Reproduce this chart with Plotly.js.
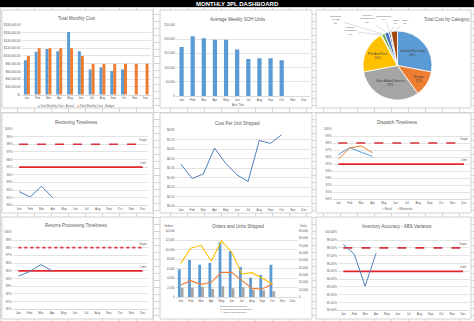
<!DOCTYPE html>
<html><head><meta charset="utf-8">
<script src="https://cdn.plot.ly/plotly-3.0.1.min.js"></script>
<style>
html,body{margin:0;padding:0;}
body{width:474px;height:321px;overflow:hidden;background-color:#fff;
background-image:linear-gradient(to right,#d6d6d6 1px,transparent 1px),linear-gradient(to bottom,#d6d6d6 1px,transparent 1px);
background-size:17px 7px;}
#chart{width:474px;height:321px;}
</style></head>
<body><div id="chart"></div>
<script>
// ---------------- DATA ----------------
const months = ['Jan','Feb','Mar','Apr','May','Jun','Jul','Aug','Sep','Oct','Nov','Dec'];

const costActual = [89000,111000,118000,112000,162000,112000,65000,71000,61000,65000,null,null];
const costBudget = [100000,120000,120000,120000,120000,100000,80000,80000,80000,80000,80000,80000];
const costTickVals = [0,20000,40000,60000,80000,100000,120000,140000,160000,180000];
const costTickText = ['$-','$20,000.00','$40,000.00','$60,000.00','$80,000.00','$100,000.00','$120,000.00','$140,000.00','$160,000.00','$180,000.00'];

const sohUnits = [172500,210000,203000,198000,198000,164000,130000,133000,133000,126000,null,null];

const pieLabels = ['Inbound Receiving','Storage','Value Added Services','Pick And Pack','Returns Processing','Outbound Freight','Inventory Management','Consumables','Admin','Other'];
const pieValues = [28,12,32,20,0.4,1.5,2,0.8,0.3,3];

const receiving = [91.8,91.1,92.5,91.0,null,null,null,null,null,null,null,null];
const costPerUnit = [0.44,0.29,0.34,0.61,0.45,0.33,0.26,0.69,0.66,0.75,null,null];
const dispatchRetail = [96.35,97.35,96.7,96.1,null,null,null,null,null,null,null,null];
const dispatchWholesale = [95.7,97.3,97.6,96.6,null,null,null,null,null,null,null,null];
const returnsTimeliness = [94.3,94.9,95.8,95.0,null,null,null,null,null,null,null,null];
const inventoryAccuracy = [98.45,97.2,93.1,97.3,null,null,null,null,null,null,null,null];

const targetLine = [98,98,98,98,98,98,98,98,98,98,98,98];
const limitLine  = [95,95,95,95,95,95,95,95,95,95,95,95];

const retailOrders = [5900,7850,6850,7200,11600,9700,6350,4100,4650,6850,null,null];
const wholesaleOrders = [1980,1980,2190,1700,2260,1840,2050,1550,1410,1200,null,null];
const retailUnits = [16400,22300,17300,20000,33600,33600,22700,11800,10900,17700,null,null];
const wholesaleUnits = [45900,66400,70500,49000,76400,61400,31400,33200,25500,18200,null,null];

// ---------------- STYLE / LAYOUT HELPERS ----------------
const W=474,H=321;
const BLUE='#5B9BD5',ORANGE='#ED7D31',GRAY='#A5A5A5',YELLOW='#FFC000',LINEBLUE='#4F81BD';
const TGT='#D9303A',LIM='#E0262B',TXT='#595959';
const FONT='Liberation Sans, Arial, sans-serif';
const dX=(a,b)=>[a/W,b/W];
const dY=(t,b)=>[1-b/H,1-t/H];
const px=x=>x/W, py=y=>1-y/H;

function xax(d,anchor){return {domain:d,anchor:anchor,type:'category',categoryorder:'array',categoryarray:months,
  range:[-0.5,11.5],showgrid:false,showline:true,linecolor:'#d9d9d9',linewidth:1,ticks:'',
  tickfont:{size:3,color:TXT},fixedrange:true,automargin:false};}
function yax(d,anchor,extra){return Object.assign({domain:d,anchor:anchor,showgrid:true,gridcolor:'#e3e3e3',gridwidth:1,
  zeroline:false,showline:false,ticks:'',tickfont:{size:3,color:TXT},fixedrange:true,automargin:false},extra||{});}

const pctAxis={range:[90,100],dtick:1,ticksuffix:'%'};

// pie geometry (layout)
const pieCx=397.5, pieCy=65.5, pieR=34.5;
const smallLabelPos=[[350,31],[336,20],[367,19],[384,18],[396,22],[405,22]];
const nBig=4;

const traces=[];
// Chart 1
traces.push({type:'bar',x:months,y:costActual,name:'Total Monthly Cost - Actual',marker:{color:BLUE},xaxis:'x',yaxis:'y',showlegend:false});
traces.push({type:'bar',x:months,y:costBudget,name:'Total Monthly Cost - Budget',marker:{color:ORANGE},xaxis:'x',yaxis:'y',showlegend:false});
// Chart 2
traces.push({type:'bar',x:months,y:sohUnits,width:0.38,marker:{color:BLUE},xaxis:'x2',yaxis:'y2',showlegend:false});
// Chart 3 pie
traces.push({type:'pie',labels:pieLabels,values:pieValues,sort:false,direction:'clockwise',rotation:0,
  marker:{colors:[BLUE,ORANGE,GRAY,YELLOW,'#C9E2B3','#70AD47','#4472C4','#264478','#8FAADC','#9E480E'],line:{color:'#fff',width:0.8}},
  texttemplate:'%{label}<br>%{percent:.0%}',
  textposition:pieLabels.map((l,i)=>i<nBig?'inside':'none'),
  insidetextorientation:'horizontal',textfont:{size:3,color:'#404040'},
  domain:{x:dX(pieCx-pieR,pieCx+pieR),y:dY(pieCy-pieR,pieCy+pieR)},showlegend:false,hoverinfo:'label+percent'});
// Chart 4 receiving
const lineTrace=(y,xa,ya,color,w,dash)=>({type:'scatter',mode:'lines',x:months,y:y,xaxis:xa,yaxis:ya,line:{color:color,width:w,dash:dash||'solid'},showlegend:false,connectgaps:false});
traces.push(lineTrace(targetLine,'x4','y4',TGT,1.6,'dash'));
traces.push(lineTrace(limitLine,'x4','y4',LIM,1.8));
traces.push(lineTrace(receiving,'x4','y4',LINEBLUE,1));
// Chart 5 cost per unit
traces.push(lineTrace(costPerUnit,'x5','y5',LINEBLUE,1));
// Chart 6 dispatch
traces.push(lineTrace(targetLine,'x6','y6',TGT,1.6,'dash'));
traces.push(lineTrace(limitLine,'x6','y6',LIM,1.8));
traces.push(lineTrace(dispatchRetail,'x6','y6',BLUE,1));
traces.push(lineTrace(dispatchWholesale,'x6','y6',ORANGE,1));
// Chart 7 returns
traces.push(lineTrace(targetLine,'x7','y7',TGT,1.8,'dot'));
traces.push(lineTrace(limitLine,'x7','y7',LIM,1.8));
traces.push(lineTrace(returnsTimeliness,'x7','y7',LINEBLUE,1));
// Chart 8 orders
traces.push({type:'bar',x:months,y:retailOrders,marker:{color:BLUE},xaxis:'x8',yaxis:'y8',showlegend:false});
traces.push({type:'bar',x:months,y:wholesaleOrders,marker:{color:GRAY},xaxis:'x8',yaxis:'y8',showlegend:false});
traces.push(lineTrace(retailUnits,'x8','y10',ORANGE,1.1));
traces.push(lineTrace(wholesaleUnits,'x8','y10',YELLOW,1.1));
// Chart 9 inventory
traces.push(lineTrace(targetLine,'x9','y9',TGT,1.6,'dash'));
traces.push(lineTrace(limitLine,'x9','y9',LIM,1.8));
traces.push(lineTrace(inventoryAccuracy,'x9','y9',LINEBLUE,1));

// panels
const panels=[[2,10,153,108],[160,10,312,108],[316,10,471,108],
              [2,113,153,213],[160,113,312,213],[316,113,471,213],
              [2,217,153,319],[160,217,312,319],[316,217,471,319]];
const shapes=panels.map(p=>({type:'rect',xref:'paper',yref:'paper',x0:px(p[0]),x1:px(p[2]),y0:py(p[3]),y1:py(p[1]),
  fillcolor:'#ffffff',line:{color:'#d0d0d0',width:1},layer:'below'}));
shapes.push({type:'rect',xref:'paper',yref:'paper',x0:0,x1:1,y0:py(7),y1:1,fillcolor:'#000',line:{width:0},layer:'below'});

function ann(text,x,y,size,extra){return Object.assign({text:text,xref:'paper',yref:'paper',x:px(x),y:py(y),showarrow:false,
  xanchor:'center',yanchor:'middle',font:{size:size,color:TXT,family:FONT}},extra||{});}
const sq=c=>'<span style="color:'+c+'">■</span>';
const ln=c=>'<span style="color:'+c+'">━</span>';
const annotations=[
  ann('<b>MONTHLY 3PL DASHBOARD</b>',237,3.6,6,{font:{size:6,color:'#fff',family:FONT}}),
  ann('Total Monthly Cost',76.7,18,4.5),
  ann('Average Weekly SOH Units',237.7,19,4.5),
  ann('Total Cost by Category',446.7,19,4.5),
  ann('Recieving Timeliness',76.7,122.3,4.5),
  ann('Cost Per Unit Shipped',237.7,123.3,4.5),
  ann('Dispatch Timeliness',397,122.7,4.5),
  ann('Returns Processing Timeliness',76.7,225.7,4.5),
  ann('Orders and Units Shipped',237.7,226,4.5),
  ann('Inventory Accuracy - ABS Variance',397,226,4.5),
  ann('Axis Title',237.7,104.5,3),
  ann(sq(BLUE)+' '+traces[0].name+'     '+sq(ORANGE)+' '+traces[1].name,76,105.7,2.8),
  ann(ln(BLUE)+' Retail      '+ln(ORANGE)+' Wholesale',397,209,2.8),
  ann(sq(BLUE)+' Retail Orders Shipped',218,306.2,2.5,{xanchor:'left'}),
  ann(sq(GRAY)+' Wholesale Orders Shipped',218,309.3,2.5,{xanchor:'left'}),
  ann(ln(ORANGE)+' Retail Units Shipped',218,312.4,2.5,{xanchor:'left'}),
  ann('Orders',169,226,3),
  ann('Units',303,226,3)
];
// Pie small-slice labels with leader lines
(function(){
  const total=pieValues.reduce((a,b)=>a+b,0);
  let cum=0;
  pieValues.forEach((v,i)=>{
    const mid=(cum+v/2)/total*2*Math.PI; cum+=v;
    if(i<nBig) return;
    const tx=pieCx+pieR*Math.sin(mid), ty=pieCy-pieR*Math.cos(mid);
    const lp=smallLabelPos[i-nBig];
    annotations.push({text:pieLabels[i].replace(' ','<br>')+'<br>'+Math.round(v/total*100)+'%',
      xref:'paper',yref:'paper',x:px(tx),y:py(ty),ax:lp[0]-tx,ay:lp[1]-ty,showarrow:true,arrowhead:0,
      arrowwidth:0.4,arrowcolor:'#a6a6a6',standoff:0,font:{size:2.5,color:TXT,family:FONT}});
  });
})();
// Target / Limit labels
[['x4','y4'],['x6','y6'],['x7','y7'],['x9','y9']].forEach(a=>{
  annotations.push({text:'Target',xref:a[0],yref:a[1],x:months[11],y:targetLine[11],yshift:4,showarrow:false,font:{size:2.8,color:TXT,family:FONT}});
  annotations.push({text:'Limit',xref:a[0],yref:a[1],x:months[11],y:limitLine[11],yshift:4,showarrow:false,font:{size:2.8,color:TXT,family:FONT}});
});

const layout={
  width:W,height:H,margin:{l:0,r:0,t:0,b:0},paper_bgcolor:'rgba(0,0,0,0)',plot_bgcolor:'rgba(0,0,0,0)',
  font:{family:FONT,color:TXT},showlegend:false,barmode:'group',bargap:0.45,bargroupgap:0,
  xaxis:xax(dX(21.5,151),'y'), yaxis:yax(dY(25,94.7),'x',{range:[0,180000],tickvals:costTickVals,ticktext:costTickText}),
  xaxis2:xax(dX(176,309.5),'y2'), yaxis2:yax(dY(25,96),'x2',{range:[0,250000],dtick:50000,tickformat:',d'}),
  xaxis4:xax(dX(13.4,148.3),'y4'), yaxis4:yax(dY(129,205.3),'x4',pctAxis),
  xaxis5:xax(dX(175.4,309.6),'y5'), yaxis5:yax(dY(130,206.3),'x5',{range:[0,0.8],dtick:0.1,tickformat:'$.2f'}),
  xaxis6:xax(dX(332.6,469.7),'y6'), yaxis6:yax(dY(129,199.3),'x6',pctAxis),
  xaxis7:xax(dX(12.7,148.3),'y7'), yaxis7:yax(dY(232.3,309.3),'x7',pctAxis),
  xaxis8:xax(dX(175.6,297.8),'y8'), yaxis8:yax(dY(231,297),'x8',{range:[0,14000],dtick:2000,tickformat:',d'}),
  yaxis10:yax(dY(231,297),'x8',{overlaying:'y8',side:'right',range:[0,90000],dtick:10000,tickformat:',d',showgrid:false}),
  xaxis9:xax(dX(337.9,468.5),'y9'), yaxis9:yax(dY(232.3,310.3),'x9',{range:[90,100],dtick:1,tickformat:'.2f',ticksuffix:'%'}),
  shapes:shapes, annotations:annotations
};
Plotly.newPlot('chart',traces,layout,{staticPlot:true,displayModeBar:false});
</script></body></html>
